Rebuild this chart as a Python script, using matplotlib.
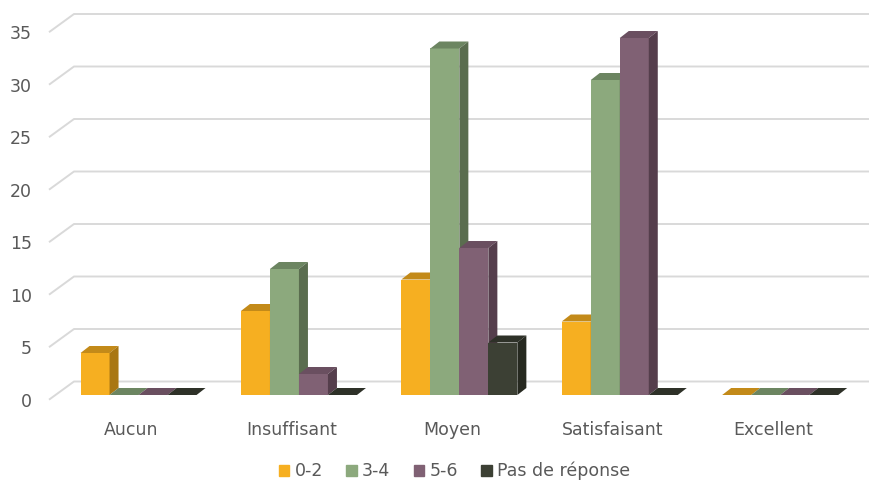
import matplotlib.pyplot as plt
from matplotlib.patches import Polygon, Patch
from matplotlib.transforms import ScaledTranslation
import numpy as np

categories = ["Aucun", "Insuffisant", "Moyen", "Satisfaisant", "Excellent"]
series_names = ["0-2", "3-4", "5-6", "Pas de réponse"]
v_0_2 = [4, 8, 11, 7, 0]
v_3_4 = [0, 12, 33, 30, 0]
v_5_6 = [0, 2, 14, 34, 0]
v_nr = [0, 0, 5, 0, 0]
yticks = [0, 5, 10, 15, 20, 25, 30, 35]

# front, top, side shades for each series
colors = [
    ("#F6AF21", "#C38A19", "#A97713"),
    ("#8CA97D", "#6C8561", "#5A6D4F"),
    ("#806174", "#6A4F60", "#553E4C"),
    ("#3C4034", "#2E3128", "#262920"),
]
TEXT = "#595959"
GRID = "#D9D9D9"

plt.rcParams['font.family'] = ['DejaVu Sans']

W, H = 869, 483
fig = plt.figure(figsize=(W / 100, H / 100), dpi=100)
ax = fig.add_axes([54 / W, (H - 395) / H, (849 - 54) / W, (395 - 27.5) / H])
ax.set_xlim(-0.527, 4.429)
ax.set_ylim(0, 35)
for s in ax.spines.values():
    s.set_visible(False)

# depth offsets in data units
px_x = 160.4
px_y = 10.5
bdx, bdy = 9 / px_x, 7 / px_y          # bar depth
fdx, fdy = -5 / px_x, -4.7 / px_y      # front edge of floor/wall
wdx, wdy = 20 / px_x, 13.5 / px_y      # back wall

# gridlines on back wall with slanted left side
for v in yticks:
    ax.plot([-0.527 + fdx, -0.527 + wdx, 4.429 + 20 / px_x + 0.2],
            [v + fdy, v + wdy, v + wdy], color=GRID, lw=1.4,
            clip_on=False, zorder=1, solid_capstyle='butt')

series = [v_0_2, v_3_4, v_5_6, v_nr]
n = len(series)
bw = 29 / px_x
x = np.arange(len(categories))
for i in range(len(categories)):
    for j, vals in enumerate(series):
        h = vals[i]
        x0 = x[i] - n * bw / 2 + j * bw
        x1 = x0 + bw
        front, top, side = colors[j]
        z = 2 + i * 10 + j
        ax.bar(x0, h, width=bw, align='edge', color=front, zorder=z, linewidth=0)
        ax.add_patch(Polygon([(x0, h), (x0 + bdx, h + bdy), (x1 + bdx, h + bdy), (x1, h)],
                             closed=True, color=top, lw=0, zorder=z, clip_on=False))
        ax.add_patch(Polygon([(x1, 0), (x1, h), (x1 + bdx, h + bdy), (x1 + bdx, bdy)],
                             closed=True, color=side, lw=0, zorder=z, clip_on=False))

ax.set_yticks(yticks)
ax.set_yticklabels([str(v) for v in yticks])
ax.set_xticks(x)
ax.set_xticklabels(categories)
ax.tick_params(axis='both', length=0, colors=TEXT, labelsize=12.5)
ax.tick_params(axis='y', pad=16)
ax.tick_params(axis='x', pad=19)
off_y = ScaledTranslation(0, -4.7 / 100, fig.dpi_scale_trans)
for lab in ax.get_yticklabels():
    lab.set_transform(lab.get_transform() + off_y)
off_x = ScaledTranslation(-7 / 100, 0, fig.dpi_scale_trans)
for lab in ax.get_xticklabels():
    lab.set_transform(lab.get_transform() + off_x)

handles = [Patch(color=c[0], label=s) for c, s in zip(colors, series_names)]
fig.legend(handles=handles, loc='center', bbox_to_anchor=(0.523, (H - 471) / H), ncol=4,
           frameon=False, fontsize=12.5, labelcolor=TEXT, handlelength=0.6, handleheight=0.6,
           handletextpad=0.3, columnspacing=1.35)

fig.savefig("out.png", dpi=100)
